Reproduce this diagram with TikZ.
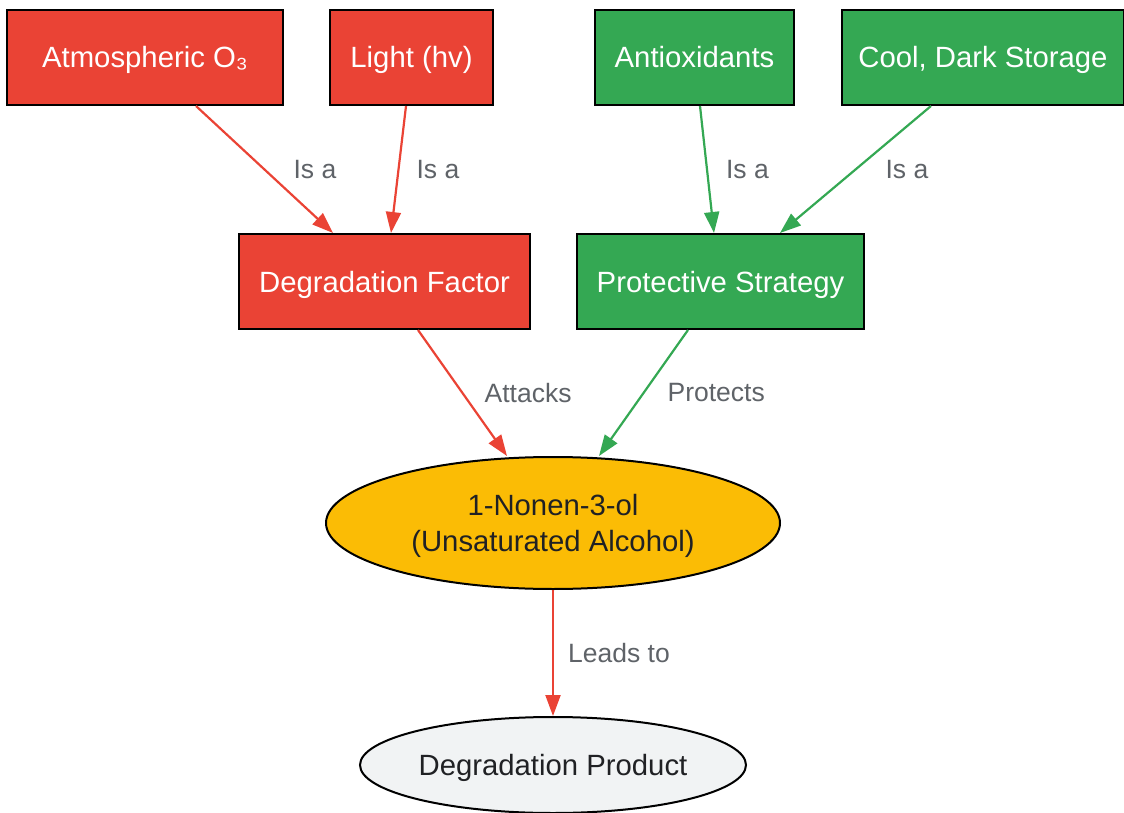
\documentclass[tikz,border=0pt]{standalone}
\usepackage{fontspec}
\setmainfont{Liberation Sans}
\usetikzlibrary{arrows.meta,shapes.geometric}
\definecolor{factorred}{HTML}{EA4335}
\definecolor{strategygreen}{HTML}{34A853}
\definecolor{alcoholyellow}{HTML}{FBBC05}
\definecolor{productgrey}{HTML}{F1F3F4}
\definecolor{labelgrey}{HTML}{5F6368}
\definecolor{textdark}{HTML}{202124}
\newcommand{\rowtop}{-57.5}
\newcommand{\rowmid}{-281.5}

\begin{document}
\begin{tikzpicture}[x=1pt, y=1pt]
  \tikzset{box/.style={draw=black, line width=2pt, text=white, minimum height=95pt, inner sep=0pt, text height=21pt, text depth=0pt, font=\fontsize{29.3}{34}\selectfont}}
  \tikzset{factor/.style={box, fill=factorred}}
  \tikzset{strategy/.style={box, fill=strategygreen}}
  \tikzset{blob/.style={ellipse, draw=black, line width=2pt, text=textdark, inner sep=0pt, align=center, text depth=0pt, font=\fontsize{29.3}{36}\selectfont}}
  \tikzset{lbl/.style={text=labelgrey, inner sep=0pt, font=\fontsize{26.5}{30}\selectfont}}
  \tikzset{redline/.style={draw=factorred, line width=2.2pt, -{Triangle[length=21pt, width=15pt]}}}
  \tikzset{greenline/.style={draw=strategygreen, line width=2.2pt, -{Triangle[length=21pt, width=15pt]}}}
  \useasboundingbox (0,0) rectangle (1124,-813);
  \node[factor, minimum width=276pt] (ozone) at (145, \rowtop) {Atmospheric O₃};
  \node[factor, minimum width=163pt] (light) at (411.5, \rowtop) {Light (hv)};
  \node[strategy, minimum width=199pt] (antiox) at (694.5, \rowtop) {Antioxidants};
  \node[strategy, minimum width=282pt] (storage) at (983, \rowtop) {Cool, Dark Storage};
  \node[factor, minimum width=291pt] (degfactor) at (384.5, \rowmid) {Degradation Factor};
  \node[strategy, minimum width=287pt] (protect) at (720.5, \rowmid) {Protective Strategy};
  \node[blob, fill=alcoholyellow, minimum width=454pt, minimum height=132pt] (nonenol) at (553, -523) {1-Nonen-3-ol\\(Unsaturated Alcohol)};
  \node[blob, fill=productgrey, minimum width=386pt, minimum height=96pt] (product) at (553, -765) {Degradation Product};
  \draw ([xshift=51]ozone.south) edge[redline] node[lbl, right=28pt] {Is a} ([xshift=-51.5]degfactor.north);
  \draw ([xshift=-5.5]light.south) edge[redline] node[lbl, right=17pt] {Is a} ([xshift=6.5]degfactor.north);
  \draw ([xshift=5.5]antiox.south) edge[greenline] node[lbl, right=18pt] {Is a} ([xshift=-6.5]protect.north);
  \draw ([xshift=-52]storage.south) edge[greenline] node[lbl, right=29pt] {Is a} ([xshift=59.5]protect.north);
  \draw ([xshift=33.5]degfactor.south) edge[redline] node[lbl, right=21pt] {Attacks} ([xshift=-46]nonenol.north);
  \draw ([xshift=-32.5]protect.south) edge[greenline] node[lbl, right=23pt] {Protects} ([xshift=46]nonenol.north);
  \draw (nonenol) edge[redline] node[lbl, right=14pt] {Leads to} (product);
\end{tikzpicture}
\end{document}
